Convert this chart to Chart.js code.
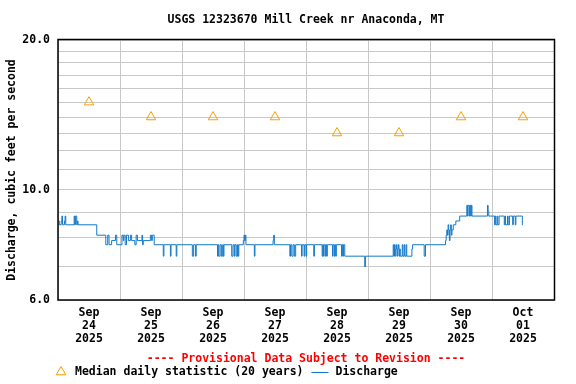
<!DOCTYPE html>
<html>
<head>
<meta charset="utf-8">
<script src="https://cdn.jsdelivr.net/npm/chart.js@4/dist/chart.umd.min.js"></script>
<style>
  html, body { margin: 0; padding: 0; background: #fff; }
  canvas { display: block; }
</style>
</head>
<body>
<canvas id="grafico" width="576" height="384"></canvas>
<script>
// Dados (horário local da estação, 2025)
const titulo = 'USGS 12323670 Mill Creek nr Anaconda, MT';
const tituloEixoY = 'Discharge, cubic feet per second';
const avisoProvisorio = '---- Provisional Data Subject to Revision ----';
const rotuloMediana = 'Median daily statistic (20 years)';
const rotuloVazao = 'Discharge';

const inicioEixo = '09-24 00:00';
const fimEixo = '10-02 00:00';
const yMin = 6, yMax = 20;
const yTicks = [6, 7, 8, 9, 10, 11, 12, 13, 14, 15, 16, 17, 18, 19, 20];
const yRotulos = { 6: '6.0', 10: '10.0', 20: '20.0' };
const meses = ['Jan','Feb','Mar','Apr','May','Jun','Jul','Aug','Sep','Oct','Nov','Dec'];

// Mediana diária (20 anos)
const medianaDias = ['09-24 12:00','09-25 12:00','09-26 12:00','09-27 12:00','09-28 12:00','09-29 12:00','09-30 12:00','10-01 12:00'];
const medianaValores = [15, 14, 14, 14, 13, 13, 14, 14];

// Vazão (pontos de mudança de nível, em degraus)
const vazaoTempos = [
  '09-24 00:00','09-24 00:30','09-24 01:15','09-24 01:30','09-24 01:45','09-24 02:30','09-24 02:45','09-24 03:00',
  '09-24 06:15','09-24 06:30','09-24 06:45','09-24 07:15','09-24 07:30','09-24 07:45','09-24 15:00','09-24 18:30',
  '09-24 19:15','09-24 19:45','09-24 20:45','09-24 22:15','09-24 22:45',
  '09-25 00:45','09-25 01:15','09-25 01:30','09-25 02:00','09-25 02:30','09-25 03:15','09-25 04:00','09-25 04:30',
  '09-25 05:45','09-25 06:15','09-25 06:45','09-25 08:30','09-25 08:45','09-25 09:00','09-25 11:45','09-25 12:15',
  '09-25 12:30','09-25 13:15','09-25 16:45','09-25 17:00','09-25 19:30','09-25 19:45','09-25 21:45','09-25 22:00',
  '09-26 04:00','09-26 04:30','09-26 05:15','09-26 05:30','09-26 13:45','09-26 14:00','09-26 14:15','09-26 14:45',
  '09-26 15:15','09-26 15:45','09-26 16:00','09-26 16:15','09-26 19:15','09-26 19:45','09-26 20:15','09-26 20:30',
  '09-26 21:00','09-26 21:30','09-26 21:45','09-26 22:00','09-26 23:45',
  '09-27 00:00','09-27 00:15','09-27 00:30','09-27 00:45','09-27 04:00','09-27 04:15','09-27 11:15','09-27 11:30',
  '09-27 11:45','09-27 17:45','09-27 18:00','09-27 18:30','09-27 19:00','09-27 19:30','09-27 20:00','09-27 22:15',
  '09-27 22:30','09-27 23:15','09-27 23:30',
  '09-28 00:00','09-28 00:15','09-28 03:00','09-28 03:15','09-28 06:15','09-28 06:30','09-28 06:45','09-28 07:00',
  '09-28 07:30','09-28 07:45','09-28 08:00','09-28 08:15','09-28 10:15','09-28 10:30','09-28 11:00','09-28 11:15',
  '09-28 11:30','09-28 11:45','09-28 13:45','09-28 14:00','09-28 14:15','09-28 14:30','09-28 15:00','09-28 22:45',
  '09-28 23:00',
  '09-29 09:45','09-29 10:00','09-29 10:15','09-29 10:30','09-29 10:45','09-29 11:00','09-29 11:15','09-29 11:30',
  '09-29 11:45','09-29 12:00','09-29 12:15','09-29 12:30','09-29 13:15','09-29 13:30','09-29 14:00','09-29 14:15',
  '09-29 14:45','09-29 15:00','09-29 17:00','09-29 17:15','09-29 21:45','09-29 22:15',
  '09-30 06:00','09-30 06:15','09-30 06:30','09-30 06:45','09-30 07:00','09-30 07:15','09-30 07:30','09-30 07:45',
  '09-30 08:00','09-30 08:15','09-30 08:30','09-30 09:00','09-30 10:00','09-30 11:30','09-30 14:15','09-30 14:30',
  '09-30 14:45','09-30 15:15','09-30 15:30','09-30 15:45','09-30 16:00','09-30 16:15','09-30 22:15','09-30 22:30',
  '09-30 22:45',
  '10-01 01:00','10-01 01:15','10-01 01:30','10-01 02:00','10-01 02:15','10-01 02:45','10-01 04:45','10-01 05:00',
  '10-01 05:15','10-01 06:00','10-01 06:15','10-01 06:45','10-01 08:00','10-01 08:15','10-01 09:00','10-01 09:15',
  '10-01 11:45','10-01 12:00'
];
const vazaoValores = [
  8.65, 8.5, 8.65, 8.85, 8.5, 8.65, 8.85, 8.5,
  8.85, 8.5, 8.85, 8.5, 8.65, 8.5, 8.1, 7.75,
  8.1, 7.75, 7.9, 8.1, 7.75,
  8.1, 7.9, 8.1, 7.75, 8.1, 7.9, 8.1, 7.9,
  7.75, 8.1, 7.9, 8.1, 7.75, 7.9, 8.1, 7.9,
  8.1, 7.75, 7.35, 7.75, 7.35, 7.75, 7.35, 7.75,
  7.35, 7.75, 7.35, 7.75, 7.35, 7.75, 7.35, 7.75,
  7.35, 7.75, 7.35, 7.75, 7.35, 7.75, 7.35, 7.75,
  7.35, 7.75, 7.35, 7.75, 7.9,
  8.1, 7.9, 8.1, 7.75, 7.35, 7.75, 7.9, 8.1,
  7.75, 7.35, 7.75, 7.35, 7.75, 7.35, 7.75, 7.35,
  7.75, 7.35, 7.75,
  7.35, 7.75, 7.35, 7.75, 7.35, 7.75, 7.35, 7.75,
  7.35, 7.75, 7.35, 7.75, 7.35, 7.75, 7.35, 7.75,
  7.35, 7.75, 7.35, 7.75, 7.35, 7.75, 7.35, 7.0,
  7.35,
  7.75, 7.35, 7.75, 7.35, 7.6, 7.75, 7.35, 7.6,
  7.75, 7.35, 7.6, 7.35, 7.75, 7.35, 7.75, 7.35,
  7.75, 7.35, 7.6, 7.75, 7.35, 7.75,
  7.9, 8.1, 8.3, 8.1, 8.5, 8.3, 7.9, 8.3,
  8.5, 8.1, 8.3, 8.5, 8.65, 8.85, 9.3, 8.85,
  9.3, 8.85, 9.3, 8.85, 9.3, 8.85, 9.3, 9.05,
  8.85,
  8.5, 8.85, 8.5, 8.85, 8.5, 8.85, 8.5, 8.85,
  8.5, 8.85, 8.5, 8.85, 8.5, 8.85, 8.5, 8.85,
  8.5, 8.5
];

const FONTE = 'DejaVu Sans Mono';
const HORA = 3600 * 1000;

// '09-24 12:00' -> ms (UTC usado só como relógio de parede)
const paraMs = s => Date.UTC(2025, +s.slice(0, 2) - 1, +s.slice(3, 5), +s.slice(6, 8), +s.slice(9, 11));

const xMin = paraMs(inicioEixo);
const xMax = paraMs(fimEixo);

const diasMeiaNoite = [];
const diasMeioDia = [];
for (let t = xMin; t <= xMax; t += 24 * HORA) {
    diasMeiaNoite.push({ value: t });
    if (t + 12 * HORA < xMax) diasMeioDia.push({ value: t + 12 * HORA });
}

// Moldura do gráfico, aviso provisório e legenda
const molduraENotas = {
    id: 'molduraENotas',
    afterDraw(chart) {
        const { ctx, chartArea: a } = chart;
        ctx.save();
        ctx.strokeStyle = '#000';
        ctx.lineWidth = 1.5;
        ctx.strokeRect(a.left, a.top - 0.5, a.right - a.left + 0.5, a.bottom - a.top + 0.5);

        ctx.font = `bold 11.5px "${FONTE}"`;
        ctx.textBaseline = 'middle';
        ctx.textAlign = 'center';
        ctx.fillStyle = '#ff0000';
        ctx.fillText(avisoProvisorio, (a.left + a.right) / 2, 359);

        // triângulo da mediana
        const ty = 372, tx = 61;
        ctx.strokeStyle = '#f5a000';
        ctx.lineWidth = 1;
        ctx.beginPath();
        ctx.moveTo(tx, ty - 5.5);
        ctx.lineTo(tx + 4.8, ty + 2.75);
        ctx.lineTo(tx - 4.8, ty + 2.75);
        ctx.closePath();
        ctx.stroke();

        ctx.textAlign = 'left';
        ctx.fillStyle = '#000';
        ctx.fillText(rotuloMediana, 75, ty);
        const fimTexto = 75 + ctx.measureText(rotuloMediana).width;

        ctx.strokeStyle = '#1479c8';
        ctx.beginPath();
        ctx.moveTo(fimTexto + 8, ty + 0.5);
        ctx.lineTo(fimTexto + 25, ty + 0.5);
        ctx.stroke();
        ctx.fillText(rotuloVazao, fimTexto + 32, ty);
        ctx.restore();
    }
};

const ctx = document.getElementById('grafico').getContext('2d');
new Chart(ctx, {
    type: 'line',
    data: {
        datasets: [
            {
                label: rotuloMediana,
                data: medianaDias.map((d, i) => ({ x: paraMs(d), y: medianaValores[i] })),
                showLine: false,
                pointStyle: 'triangle',
                pointRadius: 5.5,
                pointBorderWidth: 1,
                pointBorderColor: '#f5a000',
                pointBackgroundColor: 'rgba(0,0,0,0)'
            },
            {
                label: rotuloVazao,
                data: vazaoTempos.map((d, i) => ({ x: paraMs(d), y: vazaoValores[i] })),
                stepped: true,
                borderColor: '#1479c8',
                borderWidth: 1,
                pointRadius: 0,
                fill: false
            }
        ]
    },
    options: {
        responsive: false,
        animation: false,
        events: [],
        layout: { padding: { left: 0, right: 22, top: 0, bottom: 0 } },
        plugins: {
            legend: { display: false },
            tooltip: { enabled: false },
            title: {
                display: true,
                text: titulo,
                fullSize: false,
                color: '#000',
                font: { family: FONTE, size: 11.5, weight: 'bold', lineHeight: 1.2 },
                padding: { top: 13, bottom: 13.2 }
            }
        },
        scales: {
            x: {
                type: 'linear',
                min: xMin,
                max: xMax,
                grid: { display: false, drawTicks: false },
                border: { display: false },
                afterBuildTicks: s => { s.ticks = diasMeioDia.map(t => ({ value: t.value })); },
                afterFit: s => { s.height = 84; },
                ticks: {
                    autoSkip: false,
                    maxRotation: 0,
                    padding: 7,
                    color: '#000',
                    font: { family: FONTE, size: 11.5, weight: 'bold', lineHeight: 1.13 },
                    callback: v => {
                        const d = new Date(v);
                        return [meses[d.getUTCMonth()], String(d.getUTCDate()).padStart(2, '0'), String(d.getUTCFullYear())];
                    }
                }
            },
            xg: {
                type: 'linear',
                position: 'bottom',
                min: xMin,
                max: xMax,
                grid: { color: '#c8c8c8', lineWidth: 1, drawTicks: false },
                border: { display: false },
                afterBuildTicks: s => { s.ticks = diasMeiaNoite.map(t => ({ value: t.value })); },
                afterFit: s => { s.height = 0; },
                ticks: { display: false }
            },
            y: {
                type: 'logarithmic',
                min: yMin,
                max: yMax,
                grid: { color: '#c8c8c8', lineWidth: 1, drawTicks: false },
                border: { display: false },
                afterBuildTicks: s => { s.ticks = yTicks.map(v => ({ value: v })); },
                afterFit: s => { s.width = 58; },
                title: {
                    display: true,
                    text: tituloEixoY,
                    color: '#000',
                    font: { family: FONTE, size: 11.5, weight: 'bold', lineHeight: 1.2 },
                    padding: { top: 5, bottom: 0 }
                },
                ticks: {
                    autoSkip: false,
                    padding: 8,
                    color: '#000',
                    font: { family: FONTE, size: 11.5, weight: 'bold' },
                    callback: v => yRotulos[v] || ''
                }
            }
        }
    },
    plugins: [molduraENotas]
});
</script>
</body>
</html>
